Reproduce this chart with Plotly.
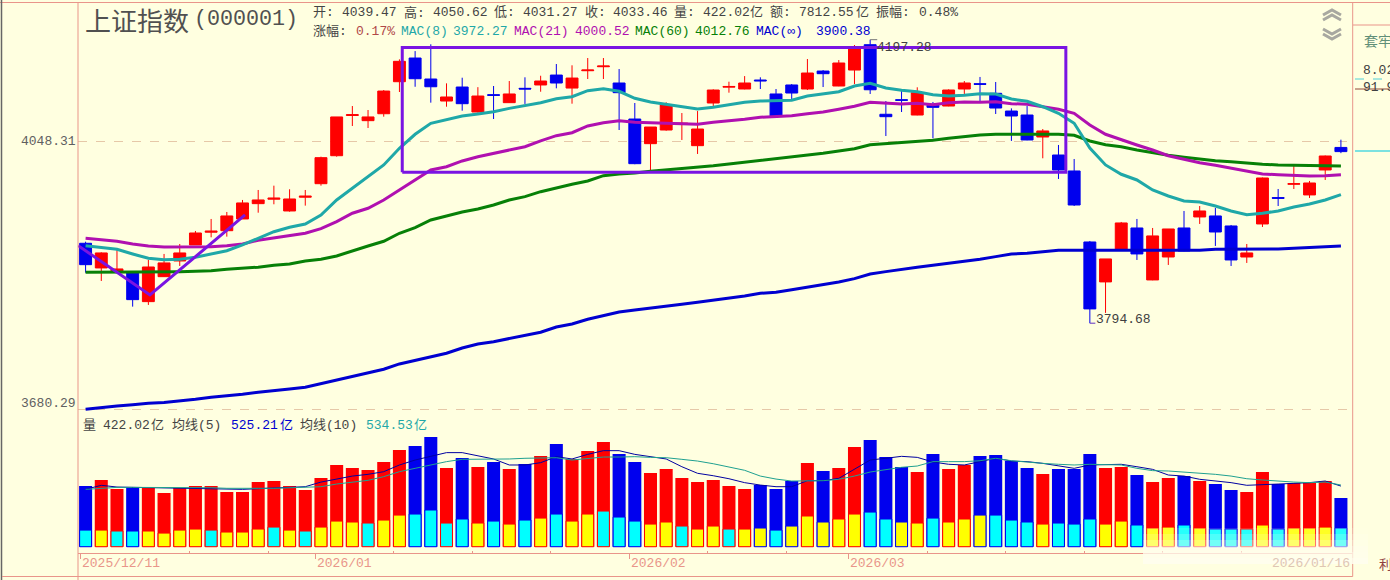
import math
import plotly.graph_objects as go

WIDTH = 1390
HEIGHT = 580

opens = [3904.1, 3870, 3865.8, 3863.8, 3823.9, 3858, 3879.6, 3901.8, 3919.5, 3921.6,
         3938, 3959.5, 3965.8, 3949.2, 3968.6, 3987.7, 4027.6, 4085.6, 4078.1, 4088.2,
         4135, 4170, 4139, 4106.7, 4127.2, 4090.7, 4116, 4104.3, 4125.3, 4130.2,
         4144.8, 4125.7, 4151.2, 4157.1, 4133.1, 4080.5, 4044.9, 4064.6, 4073.3, 4042,
         4103.8, 4127, 4124.3, 4137.5, 4117, 4130.2, 4124.3, 4150.7, 4128.7, 4152.2,
         4189.8, 4087.4, 4108.6, 4086.3, 4100.5, 4099.4, 4124.3, 4132.1, 4118, 4092.1,
         4086.3, 4054.5, 4028.6, 4005.8, 3905.9, 3850.8, 3894.8, 3925.4, 3853.5, 3885.1,
         3925.4, 3940.8, 3942.2, 3928.2, 3885.1, 3931, 3968, 3986.9, 3971.8, 4007.2, 4039.47]
closes = [3874.5, 3890.7, 3868.6, 3826.6, 3871.3, 3876.9, 3890.7, 3918.4, 3920.9, 3942.2,
          3960.5, 3964.7, 3967.2, 3966.1, 3970, 4024.8, 4083.5, 4086.8, 4083.5, 4121.3,
          4165.1, 4139.4, 4127.6, 4112.6, 4102.8, 4114, 4115, 4117, 4124.3, 4136,
          4133.1, 4140.4, 4152.2, 4158.1, 4118.9, 4016.2, 4068.9, 4100.9, 4074.3, 4066,
          4122.8, 4128, 4133.1, 4136.3, 4085, 4118.4, 4147.8, 4146.8, 4162.6, 4184.3,
          4123.2, 4083.9, 4107.8, 4118.9, 4097.5, 4122.8, 4133.1, 4131.2, 4096.5, 4084.9,
          4050.2, 4063.2, 4007.2, 3957.6, 3814, 3882.4, 3932.4, 3889.3, 3914.3, 3924,
          3893.4, 3949.2, 3919.8, 3881, 3890.7, 3995.8, 3967.1, 3987.7, 3988.7, 4027.2, 4033.46]
highs = [3906.3, 3891.6, 3895.8, 3865.8, 3881, 3889.3, 3903.1, 3921.2, 3938, 3947.8,
         3964.7, 3978.8, 3984.9, 3979.8, 3978.8, 4026.2, 4083.5, 4099.4, 4093.6, 4122.8,
         4168, 4180.3, 4190.4, 4132.6, 4140.9, 4127, 4128.7, 4136, 4141.5, 4143.8,
         4161.1, 4159.2, 4170, 4170, 4153.7, 4103.8, 4068.9, 4104.8, 4089.2, 4092.1,
         4123.8, 4135, 4143.3, 4141.5, 4124.3, 4131.6, 4168.5, 4152.2, 4167, 4189.3,
         4197.28, 4106.7, 4123.8, 4126.8, 4105.3, 4123.8, 4136, 4142, 4134.6, 4096,
         4099.4, 4066, 4043, 4022.9, 3907.3, 3882.4, 3933.8, 3938, 3925.4, 3924,
         3949.2, 3956.2, 3953.4, 3929.6, 3903.1, 3996.5, 3980.2, 4012.9, 3991.6, 4027.9, 4050.62]
lows = [3863.5, 3852.1, 3864.5, 3817.1, 3819.4, 3857.6, 3872.7, 3901.8, 3912.4, 3913.3,
        3938, 3946.8, 3958.6, 3948.2, 3956.7, 3984.9, 4026.2, 4070.4, 4067.5, 4083.9,
        4119.9, 4127.6, 4104.3, 4098.4, 4092.6, 4090, 4080.5, 4103.8, 4102.4, 4120.3,
        4125.3, 4102.8, 4139, 4139, 4064.6, 4015.4, 4004.8, 4063.6, 4050.2, 4030.1,
        4098.4, 4118.9, 4123.8, 4124.3, 4083.9, 4109.7, 4122.8, 4127.2, 4128.4, 4131.6,
        4117, 4055.9, 4090.7, 4085.9, 4052.6, 4099, 4117, 4106.7, 4087.8, 4048.8,
        4049.8, 4023.9, 3994.4, 3956.2, 3794.68, 3808.6, 3894.4, 3881, 3853.1, 3874.1,
        3893, 3931, 3900.4, 3872.7, 3876.9, 3926.8, 3956.2, 3980.2, 3967.5, 3993, 4031.27]

mac8 = [3900.8, 3898, 3895.8, 3889.3, 3883.3, 3881.4, 3882, 3884.7, 3889.3, 3893.8,
        3901.8, 3911.1, 3920.2, 3926.4, 3931, 3943.6, 3964.7, 3981.2, 3997.7, 4014.4,
        4038.2, 4058.4, 4074.3, 4080.1, 4084.9, 4087.8, 4091.1, 4096, 4099.8, 4104.3,
        4110.1, 4113, 4121.8, 4124.7, 4120.9, 4110.7, 4105.3, 4101.9, 4098.4, 4095,
        4097.5, 4100.9, 4104.8, 4106.7, 4106.7, 4107.8, 4114, 4117, 4120.3, 4128.7,
        4132.6, 4125.7, 4122.4, 4120.3, 4115.9, 4114, 4115, 4117.4, 4117, 4109.7,
        4106.3, 4098.4, 4088.8, 4074.3, 4038.7, 4014.4, 4001.1, 3993, 3978.8, 3970.3,
        3963.3, 3961.9, 3956.2, 3949.2, 3944, 3946, 3949.2, 3954.8, 3959, 3964.7, 3972.27]
mac21 = [3911.1, 3908.7, 3906.9, 3903.1, 3900.3, 3899, 3899, 3899, 3899.4, 3900.8,
         3903.1, 3908.3, 3911.5, 3915.2, 3918, 3924.4, 3934.2, 3946, 3953, 3964.7,
         3978.8, 3993, 4007.2, 4011.9, 4020.1, 4026.2, 4031.1, 4035.8, 4040.5, 4048.8,
         4056.4, 4060.7, 4070.4, 4075.2, 4078.1, 4075.8, 4074.7, 4074.3, 4073.7, 4072.9,
         4075.8, 4077.7, 4080.1, 4083, 4083.9, 4085.4, 4088.2, 4090.7, 4094.6, 4099,
         4104.8, 4103.4, 4102.4, 4103.4, 4101.3, 4104.3, 4105.3, 4104.8, 4105.7, 4102.8,
         4101.9, 4098.4, 4094.6, 4088.8, 4071.9, 4058.4, 4050.2, 4043, 4035.8, 4027.6,
         4022.5, 4017.6, 4013.9, 4009.6, 4005.4, 4001.5, 4000.5, 3999.7, 3998.7, 3999.1, 4000.52]
mac60 = [3864, 3864, 3864.8, 3864, 3864, 3864.5, 3864.8, 3865.4, 3866.2, 3868.2,
         3869.6, 3871, 3873.7, 3875.5, 3879.6, 3882, 3886.5, 3893.8, 3900.3, 3906.9,
         3918, 3925.8, 3936.6, 3942.2, 3947.8, 3952, 3957.6, 3964.7, 3969.4, 3976.4,
         3982.1, 3986.9, 3991.6, 3999.1, 4001.5, 4002.9, 4005.4, 4007.2, 4009, 4010.5,
         4013.3, 4015.8, 4018.2, 4021.1, 4023.4, 4025.4, 4028.6, 4031, 4034.4, 4037.7,
         4043.4, 4044.9, 4046.3, 4048.3, 4049.8, 4052.6, 4055.5, 4057.4, 4058.4, 4058.4,
         4059.3, 4058.8, 4058.4, 4057, 4048.8, 4043.4, 4040.5, 4035.8, 4031.9, 4028.2,
         4025.4, 4022.9, 4020.5, 4019.1, 4016.8, 4015.4, 4014.4, 4013.9, 4013, 4013, 4012.76]
mac_inf = [3680.29, 3682.9, 3684.6, 3686.3, 3688.2, 3689, 3690.8, 3693.4, 3696.1, 3697.8,
           3700, 3702.6, 3705.2, 3706.9, 3709.2, 3714, 3718.4, 3723.2, 3727.7, 3733,
           3740.1, 3745, 3749.8, 3754.3, 3761.4, 3766.7, 3769.8, 3773.8, 3778.4, 3782.5,
           3789.6, 3793.7, 3800, 3804.9, 3809.9, 3812.6, 3814.9, 3817.6, 3820.4, 3823.1,
           3825.8, 3828, 3831.6, 3835.3, 3836.7, 3840.2, 3843.5, 3847.1, 3850.8, 3855.3,
           3861.7, 3864.9, 3868.2, 3870.9, 3873.7, 3876.4, 3879.2, 3882, 3885.6, 3889.3,
           3890.3, 3892.5, 3894.4, 3894.4, 3894.4, 3894.4, 3894.4, 3894.4, 3894.4, 3894.4,
           3894.4, 3894.4, 3895.8, 3895.8, 3895.8, 3895.8, 3896.2, 3897.2, 3898.6, 3899.6, 3900.38]

volume = [526, 578, 500, 517, 517, 465, 508, 526, 526, 474, 474, 560, 569, 526, 491, 595, 708, 682, 664, 734,
          838, 872, 950, 682, 768, 690, 734, 673, 716, 786, 890, 760, 829, 907, 803, 734, 638, 673, 595, 560,
          578, 526, 500, 534, 500, 569, 725, 656, 682, 864, 924, 777, 690, 647, 803, 673, 708, 786, 794, 742,
          682, 630, 673, 673, 803, 682, 690, 621, 560, 595, 612, 569, 543, 491, 474, 647, 543, 552, 552, 569, 422.02]
inner_volume = [144, 144, 136, 136, 136, 118, 144, 153, 144, 127, 127, 153, 170, 144, 136, 170, 222, 214, 205, 231,
                274, 283, 318, 205, 240, 205, 222, 196, 231, 248, 283, 222, 283, 309, 257, 222, 196, 214, 179, 153,
                179, 153, 153, 162, 144, 179, 266, 214, 240, 283, 300, 240, 214, 205, 248, 214, 240, 274, 274, 231,
                214, 196, 205, 196, 240, 196, 222, 188, 162, 170, 188, 162, 153, 153, 153, 188, 153, 162, 162, 170, 162]
inner_up = [0, 1, 0, 0, 1, 1, 1, 1, 0, 1, 1, 1, 0, 1, 0, 1, 1, 1, 0, 1,
            1, 0, 0, 0, 0, 1, 0, 1, 0, 1, 0, 1, 1, 0, 0, 0, 1, 1, 0, 1,
            1, 0, 1, 1, 0, 1, 1, 1, 1, 1, 0, 0, 1, 1, 0, 1, 1, 1, 0, 0,
            0, 1, 0, 0, 0, 1, 1, 0, 1, 1, 0, 1, 0, 0, 0, 1, 0, 1, 1, 1, 0]
vol_ma5 = [497, 532, 517, 514, 517, 511, 506, 508, 503, 497, 497, 503, 508, 514, 520, 560, 584, 612, 627, 650,
           708, 751, 783, 815, 815, 789, 760, 708, 708, 728, 780, 760, 800, 832, 832, 800, 780, 760, 693, 636,
           615, 589, 555, 534, 520, 520, 572, 572, 592, 670, 751, 766, 783, 774, 734, 714, 708, 737, 766, 742,
           737, 722, 702, 679, 708, 708, 714, 693, 670, 621, 612, 584, 569, 555, 532, 540, 543, 549, 555, 569, 525.21]
vol_ma10 = [497, 508, 514, 514, 514, 514, 511, 511, 511, 506, 503, 506, 506, 511, 511, 520, 543, 558, 575, 607,
            650, 679, 708, 737, 757, 757, 757, 760, 766, 771, 771, 751, 763, 777, 777, 780, 774, 771, 757, 742,
            719, 693, 662, 612, 586, 569, 569, 572, 584, 612, 647, 670, 688, 699, 737, 737, 737, 745, 766, 745,
            731, 722, 714, 708, 714, 714, 708, 679, 659, 656, 647, 636, 627, 612, 589, 578, 566, 560, 555, 560, 534.53]

days = list(range(len(opens)))
month_ticks = [0, 15, 35, 49]
week_ticks = [7, 12, 20, 25, 30, 40, 45, 54, 59, 64, 69, 74]
price_ticks = [4048.31, 3680.29]

# hand drawn trend marks on the original chart
box_days = [20.18, 62.47]
box_prices = [4003.9, 4185.8]
vee_days = [-0.47, 4.1, 10.16]
vee_prices = [3900.8, 3833, 3943.6]

RED = "#FF0000"
BLUE = "#0000EE"
PINK = "#E9958A"
PURPLE = "#7A14E2"
TEAL = "#1FA8A8"
MAGENTA = "#B010B0"
GREEN = "#078007"
LINE_BLUE = "#0000D0"
GREY = "#444444"
MONO = "Liberation Mono, Noto Sans CJK SC"
CJK = "Noto Sans CJK SC"


def px(x):
    return x / WIDTH


def py(y):
    return 1 - y / HEIGHT


annotations = []
shapes = []


def label(x, y, text, color=GREY, size=13, family=MONO, opacity=1):
    annotations.append(dict(x=px(x), y=py(y), xref="paper", yref="paper", text=text, showarrow=False,
                            xanchor="left", yanchor="middle", borderpad=0, opacity=opacity,
                            font=dict(family=family, size=size, color=color)))


def rule(x0, y0, x1, y1, color=PINK, width=1, dash="solid"):
    shapes.append(dict(type="line", xref="paper", yref="paper", x0=px(x0), y0=py(y0), x1=px(x1), y1=py(y1),
                       line=dict(color=color, width=width, dash=dash), layer="above"))


fig = go.Figure()

fig.add_trace(go.Candlestick(
    x=days, open=opens, high=highs, low=lows, close=closes, whiskerwidth=0, yaxis="y",
    increasing=dict(line=dict(color=RED, width=1), fillcolor=RED),
    decreasing=dict(line=dict(color=BLUE, width=1), fillcolor=BLUE),
    showlegend=False,
))

for values, color in [(mac_inf, LINE_BLUE), (mac60, GREEN), (mac21, MAGENTA), (mac8, TEAL)]:
    fig.add_trace(go.Scatter(x=days, y=values, mode="lines", yaxis="y", showlegend=False,
                             line=dict(color=color, width=3)))

fig.add_trace(go.Scatter(
    x=[box_days[0], box_days[1], box_days[1], box_days[0], box_days[0]],
    y=[box_prices[0], box_prices[0], box_prices[1], box_prices[1], box_prices[0]],
    mode="lines", yaxis="y", showlegend=False, line=dict(color=PURPLE, width=3),
))
fig.add_trace(go.Scatter(x=vee_days, y=vee_prices, mode="lines", yaxis="y", showlegend=False,
                         line=dict(color=PURPLE, width=3)))

# little leaders from the extreme candles to their price labels
fig.add_trace(go.Scatter(x=[50, 50.45], y=[highs[50], highs[50]], mode="lines", yaxis="y", showlegend=False,
                         line=dict(color="#777777", width=1)))
fig.add_trace(go.Scatter(x=[64, 64.35], y=[lows[64], lows[64]], mode="lines", yaxis="y", showlegend=False,
                         line=dict(color="#6030C0", width=1)))

bar_colors = [RED if c >= o else BLUE for o, c in zip(opens, closes)]
fig.add_trace(go.Bar(x=days, y=volume, width=0.83, yaxis="y2", showlegend=False,
                     marker=dict(color=bar_colors, line=dict(width=0))))
fig.add_trace(go.Bar(x=days, y=inner_volume, width=0.76, yaxis="y2", showlegend=False,
                     marker=dict(color=["#FFFF00" if up else "#00FFFF" for up in inner_up],
                                 line=dict(color=bar_colors, width=1))))
fig.add_trace(go.Scatter(x=days, y=vol_ma5, mode="lines", yaxis="y2", showlegend=False,
                         line=dict(color="#0000A0", width=1)))
fig.add_trace(go.Scatter(x=days, y=vol_ma10, mode="lines", yaxis="y2", showlegend=False,
                         line=dict(color="#1FA090", width=1)))

# header
label(84, 19, "上证指数", "#505050", 26, CJK)
label(193, 19, "(000001)", "#505050", 21.7, "Liberation Mono")
row1 = [(312, "开:"), (341, "4039.47"), (403, "高:"), (432, "4050.62"), (493, "低:"), (522, "4031.27"),
        (584, "收:"), (612, "4033.46"), (673, "量:"), (702, "422.02"), (749, "亿"), (769, "额:"),
        (798, "7812.55"), (855, "亿"), (875, "振幅:"), (918, "0.48%")]
for x, text in row1:
    label(x, 13, text)
label(312, 31, "涨幅:")
label(355, 31, "0.17%", "#B04848")
row2 = [(400, "MAC(8)", TEAL), (452, "3972.27", TEAL), (513, "MAC(21)", MAGENTA), (574, "4000.52", MAGENTA),
        (634, "MAC(60)", GREEN), (694, "4012.76", GREEN), (755, "MAC(∞)", LINE_BLUE), (815, "3900.38", LINE_BLUE)]
for x, text, color in row2:
    label(x, 31, text, color)

# price labels
label(20, 142, "4048.31", "#606060")
label(20, 403, "3680.29", "#606060")
label(876, 48, "4197.28", "#404040")
label(1095, 319, "3794.68", "#404040")

# volume header
row3 = [(82, "量", GREY), (102, "422.02", GREY), (150, "亿", GREY), (171, "均线(5)", GREY), (230, "525.21", LINE_BLUE),
        (279, "亿", LINE_BLUE), (299, "均线(10)", GREY), (365, "534.53", TEAL), (413, "亿", TEAL)]
for x, text, color in row3:
    label(x, 425, text, color)

# date row
for x, text in [(81, "2025/12/11"), (316, "2026/01"), (630, "2026/02"), (849, "2026/03")]:
    label(x, 563, text, PINK)
label(1271, 563, "2026/01/16", "#D8B8A8", opacity=0.8)
label(1378, 563, "利", "#904040", 13, CJK)

# right hand panel
label(1363, 40, "套牢", "#5F8F78", 14, CJK)
label(1362, 70, "8.02", "#404040")
label(1362, 87, "91.98", "#404040")

# frame
rule(0, 2.5, WIDTH, 2.5)
rule(1.5, 0, 1.5, HEIGHT, "#666666", 1.5)
rule(78, 2.5, 78, HEIGHT)
rule(1352.7, 2.5, 1352.7, 576.5)
rule(1353, 25, WIDTH, 25)
rule(2, 576.5, 1352.7, 576.5)
rule(1355, 79, WIDTH, 79, "#50D0D8", 1, "dash")
rule(1355, 89, WIDTH, 89, "#904838")
rule(1355, 151, WIDTH, 151, "#50D8E0", 1.5)

# scroll chevrons
for base, sign in [(15, -1), (29, 1)]:
    for step in (0, 5):
        y_mid = base + step + (sign * 5)
        y_end = base + step
        shapes.append(dict(type="path", xref="paper", yref="paper", layer="above",
                           path=f"M {px(1323)} {py(y_end)} L {px(1332)} {py(y_mid)} L {px(1341)} {py(y_end)}",
                           line=dict(color="#A8A8A0", width=3)))

# blurred watermark across the lower right bars
for i, fade in enumerate([0.15, 0.3, 0.45, 0.6, 0.75, 0.88]):
    shapes.append(dict(type="rect", xref="paper", yref="paper", layer="above",
                       x0=px(1143), x1=px(1368), y0=py(528 + i * 6), y1=py(534 + i * 6),
                       fillcolor="#FFFEEE", opacity=fade, line=dict(width=0)))

fig.update_layout(
    width=WIDTH,
    height=HEIGHT,
    margin=dict(l=0, r=0, t=0, b=0),
    paper_bgcolor="#FFFFE0",
    plot_bgcolor="#FFFFE0",
    barmode="overlay",
    boxgap=0.24,
    boxgroupgap=0,
    showlegend=False,
    annotations=annotations,
    shapes=shapes,
    xaxis=dict(
        domain=[px(78), px(1353)], range=[-0.484, 80.77], anchor="y2", rangeslider=dict(visible=False),
        showgrid=False, zeroline=False, showline=True, linecolor=PINK, linewidth=1,
        tickmode="array", tickvals=[d - 0.35 for d in month_ticks], ticktext=["" for _ in month_ticks],
        ticks="outside", ticklen=5, tickcolor=PINK, tickwidth=1,
        minor=dict(tickmode="array", tickvals=[d - 0.35 for d in week_ticks], ticks="inside", ticklen=2,
                   tickcolor=PINK),
    ),
    yaxis=dict(
        domain=[py(412), py(3)], type="log", range=[math.log10(3676.7), math.log10(4252.4)], anchor="x",
        tickmode="array", tickvals=price_ticks, showticklabels=False, showgrid=True, gridcolor="#E6C8A8",
        griddash="dash", gridwidth=1, zeroline=False,
    ),
    yaxis2=dict(
        domain=[py(553.3), py(412)], range=[-57, 1167], anchor="x", showgrid=False, zeroline=False,
        showticklabels=False,
    ),
)

fig.write_html("out.html", config=dict(displayModeBar=False),
               post_script="document.body.style.margin='0';document.body.style.overflow='hidden';")
